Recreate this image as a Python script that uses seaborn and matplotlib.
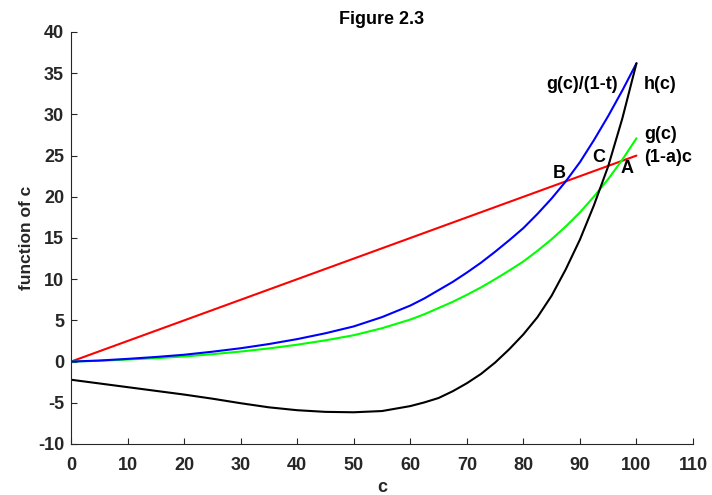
import matplotlib
matplotlib.use("Agg")
import matplotlib.pyplot as plt
import seaborn as sns
import pandas as pd

# ---- data ----
c_vals = [0, 5, 10, 15, 20, 25, 30, 35, 40, 45, 50, 55, 60, 62.5, 65, 67.5, 70,
          72.5, 75, 77.5, 80, 82.5, 85, 87.5, 90, 92.5, 95, 97.5, 100]
g_vals = [0, 0.1, 0.25, 0.42, 0.62, 0.9, 1.22, 1.6, 2.05, 2.58, 3.2, 4.05, 5.1,
          5.75, 6.5, 7.25, 8.1, 9.0, 10.0, 11.05, 12.15, 13.45, 14.85, 16.4,
          18.1, 20.05, 22.15, 24.5, 27.1]
gt_vals = [0, 0.13, 0.33, 0.56, 0.83, 1.2, 1.62, 2.13, 2.73, 3.44, 4.27, 5.4, 6.8,
           7.67, 8.67, 9.67, 10.8, 12.0, 13.33, 14.73, 16.2, 17.93, 19.8, 21.87,
           24.2, 26.9, 29.8, 32.9, 36.2]
h_vals = [-2.2, -2.65, -3.1, -3.55, -4.0, -4.5, -5.05, -5.55, -5.9, -6.1, -6.15,
          -6.0, -5.4, -4.95, -4.42, -3.6, -2.63, -1.5, -0.12, 1.5, 3.3, 5.4, 8.0,
          11.2, 14.8, 19.0, 23.7, 29.5, 36.2]
line_c = [0, 100]
line_vals = [0, 25]

curve_labels = ["g(c)/(1-t)", "h(c)", "g(c)", "(1-a)c"]
curve_label_pos = [(84.0, 33.6), (101.3, 33.6), (101.3, 27.6), (101.3, 24.8)]
point_labels = ["B", "C", "A"]
point_label_pos = [(86.3, 22.8), (93.4, 24.8), (98.3, 23.4)]

title = "Figure 2.3"
xlabel = "c"
ylabel = "function of c"
xticks = list(range(0, 111, 10))
yticks = list(range(-10, 41, 5))

# ---- styling ----
sns.set_theme(style="ticks")
plt.rcParams['font.family'] = ['Liberation Sans', 'DejaVu Sans']
plt.rcParams['font.weight'] = 'bold'
plt.rcParams['axes.unicode_minus'] = False
axcol = "#262626"

fig = plt.figure(figsize=(7.12, 4.95), dpi=100)
ax = fig.add_axes([71/712, 1-444/495, (693-71)/712, (444-32)/495])

df = pd.DataFrame({"c": c_vals, "g": g_vals, "gt": gt_vals, "h": h_vals})
dline = pd.DataFrame({"c": line_c, "v": line_vals})

lw = 1.5
sns.lineplot(data=dline, x="c", y="v", color=(1, 0, 0), lw=lw, ax=ax)
sns.lineplot(data=df, x="c", y="g", color=(0, 1, 0), lw=lw, ax=ax)
sns.lineplot(data=df, x="c", y="gt", color=(0, 0, 1), lw=lw, ax=ax)
sns.lineplot(data=df, x="c", y="h", color="black", lw=lw, ax=ax)

ax.set_xlim(0, 110)
ax.set_ylim(-10, 40)
ax.set_xticks(xticks)
ax.set_yticks(yticks)

for sp in ["top", "right"]:
    ax.spines[sp].set_visible(False)
for sp in ["left", "bottom"]:
    ax.spines[sp].set_color(axcol)
    ax.spines[sp].set_linewidth(0.8)

ax.tick_params(direction="in", length=4, width=0.8, colors=axcol,
               labelsize=13)
ax.tick_params(axis="x", pad=9)
ax.tick_params(axis="y", pad=5)
for lab in ax.get_xticklabels() + ax.get_yticklabels():
    lab.set_fontweight("bold")
    lab.set_color(axcol)

ax.set_xlabel(xlabel, fontsize=13, fontweight="bold", color=axcol, labelpad=4)
ax.set_ylabel(ylabel, fontsize=12.5, fontweight="bold", color=axcol, labelpad=3)
ax.set_title(title, fontsize=13, fontweight="bold", color="black", pad=6)

for t, (x, y) in zip(curve_labels, curve_label_pos):
    ax.text(x, y, t, fontsize=13, fontweight="bold", va="center", ha="left",
            color="black")
for t, (x, y) in zip(point_labels, point_label_pos):
    ax.text(x, y, t, fontsize=13, fontweight="bold", va="center", ha="center",
            color="black")

fig.savefig("out.png", dpi=100)
